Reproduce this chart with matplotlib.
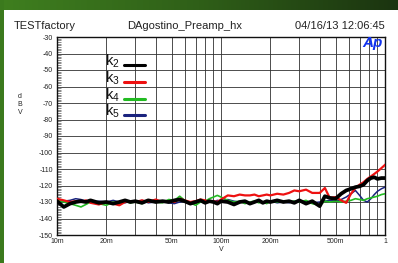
import numpy as np
import matplotlib
matplotlib.use("Agg")
import matplotlib.pyplot as plt
from matplotlib.ticker import FixedLocator, NullFormatter, MultipleLocator
from matplotlib.colors import LinearSegmentedColormap

plt.rcParams['font.family'] = ['Liberation Sans', 'DejaVu Sans']

volts = [0.010, 0.011, 0.012, 0.013, 0.014, 0.015, 0.016, 0.018, 0.020, 0.022,
         0.024, 0.026, 0.028, 0.030, 0.033, 0.036, 0.040, 0.044, 0.048, 0.052,
         0.056, 0.060, 0.065, 0.070, 0.075, 0.080, 0.085, 0.090, 0.095, 0.100,
         0.110, 0.120, 0.130, 0.140, 0.150, 0.160, 0.170, 0.180, 0.190, 0.200,
         0.220, 0.240, 0.260, 0.280, 0.300, 0.330, 0.360, 0.400, 0.430, 0.460,
         0.500, 0.540, 0.580, 0.620, 0.660, 0.700, 0.740, 0.780, 0.820, 0.860,
         0.900, 0.950, 1.000]

k2 = [-129.5, -133, -131, -130, -129.5, -130, -129, -130.5, -130, -131,
      -130, -129, -130, -129.5, -130.5, -129, -130, -129.5, -130, -129,
      -128.5, -129.5, -131, -130, -129, -130.5, -129.5, -130, -131, -129.5,
      -130, -131.5, -130, -129.5, -131, -130, -129, -130.5, -129.5, -130,
      -129, -130, -129.5, -130.5, -129, -131, -129.5, -132.5, -126.5, -127.5,
      -128, -125, -123, -122, -121, -120.5, -119.5, -117, -115.5, -115,
      -116, -115.5, -115.5]

k3 = [-128, -129, -130, -129.5, -130, -129, -130.5, -131.5, -130, -131,
      -132, -130, -129.5, -130, -129, -130, -128.5, -130, -129.5, -130,
      -128, -129, -130, -129.5, -128.5, -129, -130, -129.5, -130, -128.5,
      -126, -126.5, -125.5, -126, -126, -125.5, -126.5, -126, -125.5, -126,
      -125, -125.5, -124.5, -123, -123.5, -122.5, -124.5, -124.5, -121.5, -127.5,
      -127, -129, -130.5, -125, -121.5, -119.5, -118, -116, -114.5, -113,
      -111.5, -109.5, -107.5]

k4 = [-129, -130, -131, -132, -133, -131.5, -130, -131, -132, -130,
      -131, -129.5, -130.5, -130, -131, -129, -130, -130.5, -128.5, -129,
      -126.5, -129, -130.5, -132, -130, -129.5, -128, -127, -126, -127,
      -129, -130, -129.5, -131, -130, -129.5, -130.5, -130, -131, -129.5,
      -130, -129.5, -130, -129.5, -130, -129, -131, -132, -129.5, -130,
      -129.5, -130, -129.5, -129, -128, -128.5, -129, -128, -127.5, -127,
      -126.5, -125.5, -125]

k5 = [-130, -129.5, -129, -128, -128.5, -129.5, -130, -129.5, -130, -129,
      -130, -130.5, -129.5, -130, -129, -130.5, -130, -129.5, -130.5, -131,
      -130, -129.5, -130, -129.5, -130, -130.5, -129.5, -130, -129, -129.5,
      -128.5, -129.5, -130, -129.5, -130.5, -130, -129.5, -130.5, -130, -129.5,
      -130.5, -130, -130.5, -129.5, -130, -129.5, -130.5, -130, -129.5, -129,
      -129.5, -128.5, -127, -125, -123, -126, -129, -130, -128, -125.5,
      -123.5, -122, -121]

series_names = ['2', '3', '4', '5']
series_colors = ['#000000', '#ee1111', '#22bb22', '#1a237e']

x_tick_vals = [0.01, 0.02, 0.05, 0.1, 0.2, 0.5, 1.0]
x_tick_labels = ['10m', '20m', '50m', '100m', '200m', '500m', '1']
y_tick_vals = list(range(-150, -29, 10))
y_tick_labels = ['-150', '-140', '-130', '-120', '-110', '-100', '-90', '-80',
                 '-70', '-60', '-50', '-40', '-30']

W, H = 398, 263
fig = plt.figure(figsize=(W / 100, H / 100), dpi=100, facecolor='white')

def fx(px):
    return px / W

def fy(py):
    return 1 - py / H

# background frame: green left strip, gradient top band
bg = fig.add_axes([0, 0, 1, 1], zorder=-10)
bg.set_axis_off()
bg.set_xlim(0, W)
bg.set_ylim(H, 0)
grad = np.linspace(0, 1, 256)[None, :]
cm = LinearSegmentedColormap.from_list('g', ['#3f7f1f', '#2f5f18', '#1b3410'])
bg.imshow(grad, cmap=cm, extent=[0, W, 10, 0], aspect='auto')
bg.add_patch(plt.Rectangle((0, 0), 4, H, color='#3b7a1d', lw=0))

ax = fig.add_axes([fx(57), fy(235), fx(385) - fx(57), fy(37) - fy(235)])
ax.set_xscale('log')
ax.set_xlim(0.01, 1.0)
ax.set_ylim(-150, -30)

data = [k2, k3, k4, k5]
widths = [2.7, 1.6, 1.2, 1.1]
for i in [3, 2, 1, 0]:
    ax.plot(volts, data[i], color=series_colors[i], lw=widths[i], zorder=3 + (3 - i))

ax.xaxis.set_major_locator(FixedLocator(x_tick_vals))
ax.set_xticklabels(x_tick_labels)
minors = [m * d for d in (0.01, 0.1) for m in range(1, 10)]
ax.xaxis.set_minor_locator(FixedLocator(minors))
ax.xaxis.set_minor_formatter(NullFormatter())
ax.set_yticks(y_tick_vals)
ax.set_yticklabels(y_tick_labels)
ax.yaxis.set_minor_locator(MultipleLocator(1))

ax.grid(True, which='major', color='#303030', lw=0.6)
ax.grid(True, which='minor', axis='x', color='#303030', lw=0.6)
ax.tick_params(axis='x', which='both', length=0, labelsize=5, pad=2, colors='#222222')
ax.tick_params(axis='y', which='major', length=0, labelsize=5, pad=3, colors='#222222')
ax.tick_params(axis='y', which='minor', direction='in', length=3, width=0.4, color='#333333')
for s in ax.spines.values():
    s.set_color('#111111')
    s.set_linewidth(1.0)

ax.set_xlabel('V', fontsize=5, labelpad=1, color='#222222')
fig.text(fx(20), fy(105), 'd\nB\nV', fontsize=5, ha='center', va='center',
         color='#222222', linespacing=1.2)

# header
fig.text(fx(14), fy(26), 'TESTfactory', fontsize=8, ha='left', va='center', color='#222222')
fig.text(fx(127), fy(26), 'DAgostino_Preamp_hx', fontsize=8, ha='left', va='center', color='#222222')
fig.text(fx(385), fy(26), '04/16/13 12:06:45', fontsize=8, ha='right', va='center', color='#222222')

# Ap logo
fig.text(fx(373), fy(43), 'Ap', fontsize=11, fontweight='bold', fontstyle='italic',
         color='#1133ee', ha='center', va='center', zorder=10)

# legend
leg_y = [65, 82, 99, 115]
for name, col, yy in zip(series_names, series_colors, leg_y):
    fig.text(fx(105), fy(yy + 1), r'$\mathregular{k_{%s}}$' % name, fontsize=10.5,
             ha='left', va='baseline', color='#111111')
    fig.add_artist(plt.Line2D([fx(124), fx(145)], [fy(yy), fy(yy)], color=col,
                              lw=2.2, solid_capstyle='round'))

fig.savefig('out.png', dpi=100, facecolor='white')
